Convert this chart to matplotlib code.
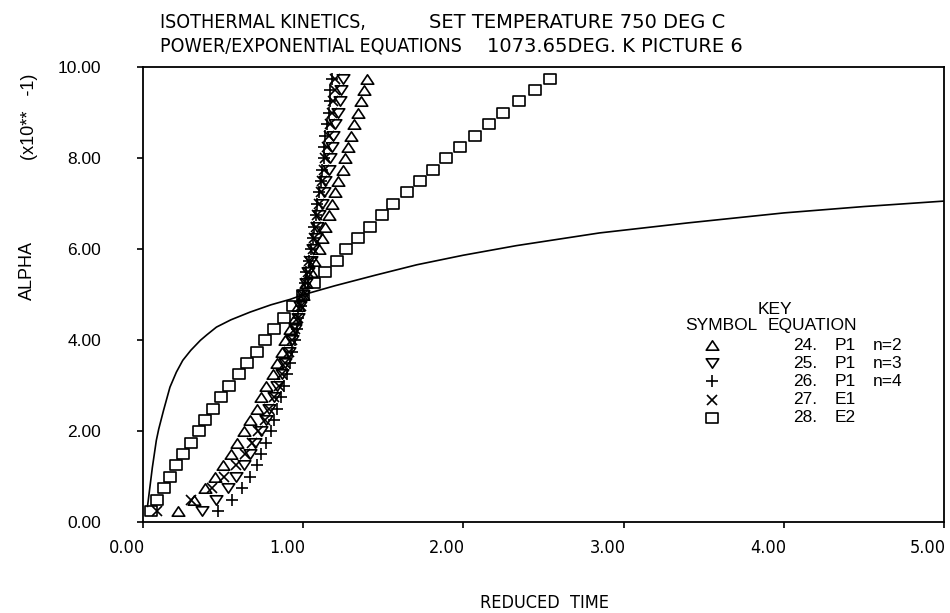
import matplotlib
matplotlib.use("Agg")
import matplotlib.pyplot as plt
from matplotlib.path import Path
import matplotlib.transforms as mtransforms

# ---------------- data (alpha in units of x10**-1) ----------------
alpha = [0.25, 0.50, 0.75, 1.00, 1.25, 1.50, 1.75, 2.00, 2.25, 2.50,
         2.75, 3.00, 3.25, 3.50, 3.75, 4.00, 4.25, 4.50, 4.75, 5.00,
         5.25, 5.50, 5.75, 6.00, 6.25, 6.50, 6.75, 7.00, 7.25, 7.50,
         7.75, 8.00, 8.25, 8.50, 8.75, 9.00, 9.25, 9.50, 9.75]

t_p1_n2 = [0.22, 0.32, 0.39, 0.45, 0.50, 0.55, 0.59, 0.63, 0.67, 0.71,
           0.74, 0.77, 0.81, 0.84, 0.87, 0.89, 0.92, 0.95, 0.97, 1.00,
           1.02, 1.05, 1.07, 1.10, 1.12, 1.14, 1.16, 1.18, 1.20, 1.22,
           1.25, 1.26, 1.28, 1.30, 1.32, 1.34, 1.36, 1.38, 1.40]

t_p1_n3 = [0.37, 0.46, 0.53, 0.58, 0.63, 0.67, 0.70, 0.74, 0.77, 0.79,
           0.82, 0.84, 0.87, 0.89, 0.91, 0.93, 0.95, 0.97, 0.98, 1.00,
           1.02, 1.03, 1.05, 1.06, 1.08, 1.09, 1.10, 1.12, 1.13, 1.14,
           1.16, 1.17, 1.18, 1.19, 1.20, 1.22, 1.23, 1.24, 1.25]

t_p1_n4 = [0.47, 0.56, 0.62, 0.67, 0.71, 0.74, 0.77, 0.80, 0.82, 0.84,
           0.86, 0.88, 0.90, 0.92, 0.93, 0.95, 0.96, 0.97, 0.99, 1.00,
           1.01, 1.02, 1.04, 1.05, 1.06, 1.07, 1.08, 1.09, 1.10, 1.11,
           1.12, 1.13, 1.13, 1.14, 1.15, 1.16, 1.17, 1.17, 1.18]

t_e1 = [0.09, 0.30, 0.43, 0.51, 0.58, 0.64, 0.68, 0.72, 0.76, 0.79,
        0.82, 0.85, 0.87, 0.89, 0.91, 0.93, 0.95, 0.97, 0.99, 1.00,
        1.02, 1.03, 1.04, 1.06, 1.07, 1.08, 1.09, 1.10, 1.11, 1.12,
        1.13, 1.14, 1.15, 1.16, 1.17, 1.18, 1.19, 1.20, 1.20]

t_e2 = [0.05, 0.09, 0.13, 0.17, 0.21, 0.25, 0.30, 0.35, 0.39, 0.44,
        0.49, 0.54, 0.60, 0.65, 0.71, 0.76, 0.82, 0.88, 0.94, 1.00,
        1.07, 1.14, 1.21, 1.27, 1.34, 1.42, 1.49, 1.56, 1.65, 1.73,
        1.81, 1.89, 1.98, 2.07, 2.16, 2.25, 2.35, 2.45, 2.54]

curve_t = [0.03, 0.06, 0.085, 0.10, 0.13, 0.17, 0.21, 0.25, 0.30, 0.36,
           0.40, 0.46, 0.55, 0.67, 0.80, 0.92, 1.00, 1.20, 1.45, 1.71,
           2.00, 2.33, 2.85, 3.40, 4.00, 4.50, 5.00]
curve_a = [0.35, 1.20, 1.80, 2.05, 2.46, 2.97, 3.30, 3.56, 3.78, 4.00,
           4.12, 4.29, 4.45, 4.62, 4.78, 4.90, 5.00, 5.20, 5.43, 5.66,
           5.87, 6.08, 6.36, 6.58, 6.80, 6.94, 7.06]

key_nums = ["24.", "25.", "26.", "27.", "28."]
key_eqs = ["P1", "P1", "P1", "E1", "E2"]
key_ns = ["n=2", "n=3", "n=4", "", ""]

x_ticks = [0, 1, 2, 3, 4, 5]
x_ticklabels = ["0.00", "1.00", "2.00", "3.00", "4.00", "5.00"]
y_ticks = [0, 2, 4, 6, 8, 10]
y_ticklabels = ["0.00", "2.00", "4.00", "6.00", "8.00", "10.00"]

title1 = ["ISOTHERMAL KINETICS,", "SET TEMPERATURE 750 DEG C"]
title2 = ["POWER/EXPONENTIAL EQUATIONS", "1073.65DEG. K PICTURE 6"]

# ---------------- figure ----------------
PLOT = ["DejaVu Sans"]
PLAIN = ["Liberation Sans", "DejaVu Sans"]
plt.rcParams["font.family"] = PLAIN

W, H = 950, 613
fig = plt.figure(figsize=(9.5, 6.13), dpi=100)
L, R, T, B = 142.7, 944.3, 67.3, 522.3
ax = fig.add_axes([L / W, 1 - B / H, (R - L) / W, (B - T) / H])
ax.set_xlim(0, 5)
ax.set_ylim(0, 10)

rect = Path([(-1.3, -1), (1.3, -1), (1.3, 1), (-1.3, 1), (-1.3, -1)],
            [Path.MOVETO, Path.LINETO, Path.LINETO, Path.LINETO, Path.CLOSEPOLY])
tri_up = Path([(0, 0.75), (-1, -0.75), (1, -0.75), (0, 0.75)],
              [Path.MOVETO, Path.LINETO, Path.LINETO, Path.CLOSEPOLY])
tri_dn = Path([(0, -0.75), (-1, 0.75), (1, 0.75), (0, -0.75)],
              [Path.MOVETO, Path.LINETO, Path.LINETO, Path.CLOSEPOLY])

mk = dict(color="black", linestyle="none", markerfacecolor="none",
          markeredgecolor="black", markeredgewidth=1.2)
series = [(t_p1_n2, tri_up, 9), (t_p1_n3, tri_dn, 9), (t_p1_n4, "+", 8.5),
          (t_e1, "x", 7), (t_e2, rect, 8.5)]
for tx, m, s in series:
    ax.plot(tx, alpha, marker=m, markersize=s, **mk)

ax.plot(curve_t, curve_a, color="black", linewidth=1.2)

for sp in ax.spines.values():
    sp.set_linewidth(1.3)
ax.tick_params(direction="out", length=4, width=1.2)
ax.set_xticks(x_ticks)
ax.set_xticklabels([])
ax.set_yticks(y_ticks)
ax.set_yticklabels(y_ticklabels, fontsize=12.5, family=PLAIN)
ax.tick_params(axis="y", pad=26)

# x tick labels: right edge at tick
xoff = mtransforms.ScaledTranslation(2 / 100, 0, fig.dpi_scale_trans)
trans = mtransforms.blended_transform_factory(ax.transData, fig.transFigure) + xoff
for xv, lab in zip(x_ticks, x_ticklabels):
    ax.text(xv, 1 - 548 / H, lab, transform=trans, ha="right", va="center",
            fontsize=13, family=PLOT, fontstretch="condensed")

# titles
fig.text(160 / W, 1 - 22 / H, title1[0], fontsize=14, family=PLOT,
         fontstretch="condensed", va="center", ha="left")
fig.text(429 / W, 1 - 22 / H, title1[1], fontsize=14, family=PLOT,
         va="center", ha="left")
fig.text(160 / W, 1 - 46 / H, title2[0], fontsize=14, family=PLOT,
         fontstretch="condensed", va="center", ha="left")
fig.text(487 / W, 1 - 46 / H, title2[1], fontsize=14, family=PLOT,
         va="center", ha="left")

# axis titles
fig.text(545 / W, 1 - 603 / H, "REDUCED  TIME", fontsize=13, family=PLOT,
         fontstretch="condensed", ha="center", va="center")
fig.text(30 / W, 1 - 117 / H, "(x10**   -1)", fontsize=13, family=PLAIN,
         rotation=90, ha="center", va="center")
fig.text(27 / W, 1 - 271 / H, "ALPHA", fontsize=13, family=PLAIN,
         rotation=90, ha="center", va="center")

# key
fig.text(775 / W, 1 - 310 / H, "KEY", fontsize=12.5, family=PLAIN, ha="center", va="center")
fig.text(757 / W, 1 - 326 / H, "SYMBOL", fontsize=12.5, family=PLAIN, ha="right", va="center")
fig.text(768 / W, 1 - 326 / H, "EQUATION", fontsize=12.5, family=PLAIN, ha="left", va="center")
row_y = [345, 363, 381, 400, 418]
for (tx, m, s), num, eq, nn, yy in zip(series, key_nums, key_eqs, key_ns, row_y):
    fig.lines.append(plt.Line2D([712 / W], [1 - yy / H], transform=fig.transFigure,
                                marker=m, markersize=s, **mk))
    fig.text(793 / W, 1 - yy / H, num, fontsize=12.5, family=PLAIN, ha="left", va="center")
    fig.text(835 / W, 1 - yy / H, eq, fontsize=12.5, family=PLAIN, ha="left", va="center")
    if nn:
        fig.text(873 / W, 1 - yy / H, nn, fontsize=12.5, family=PLAIN, ha="left", va="center")

fig.savefig("out.png", dpi=100)
